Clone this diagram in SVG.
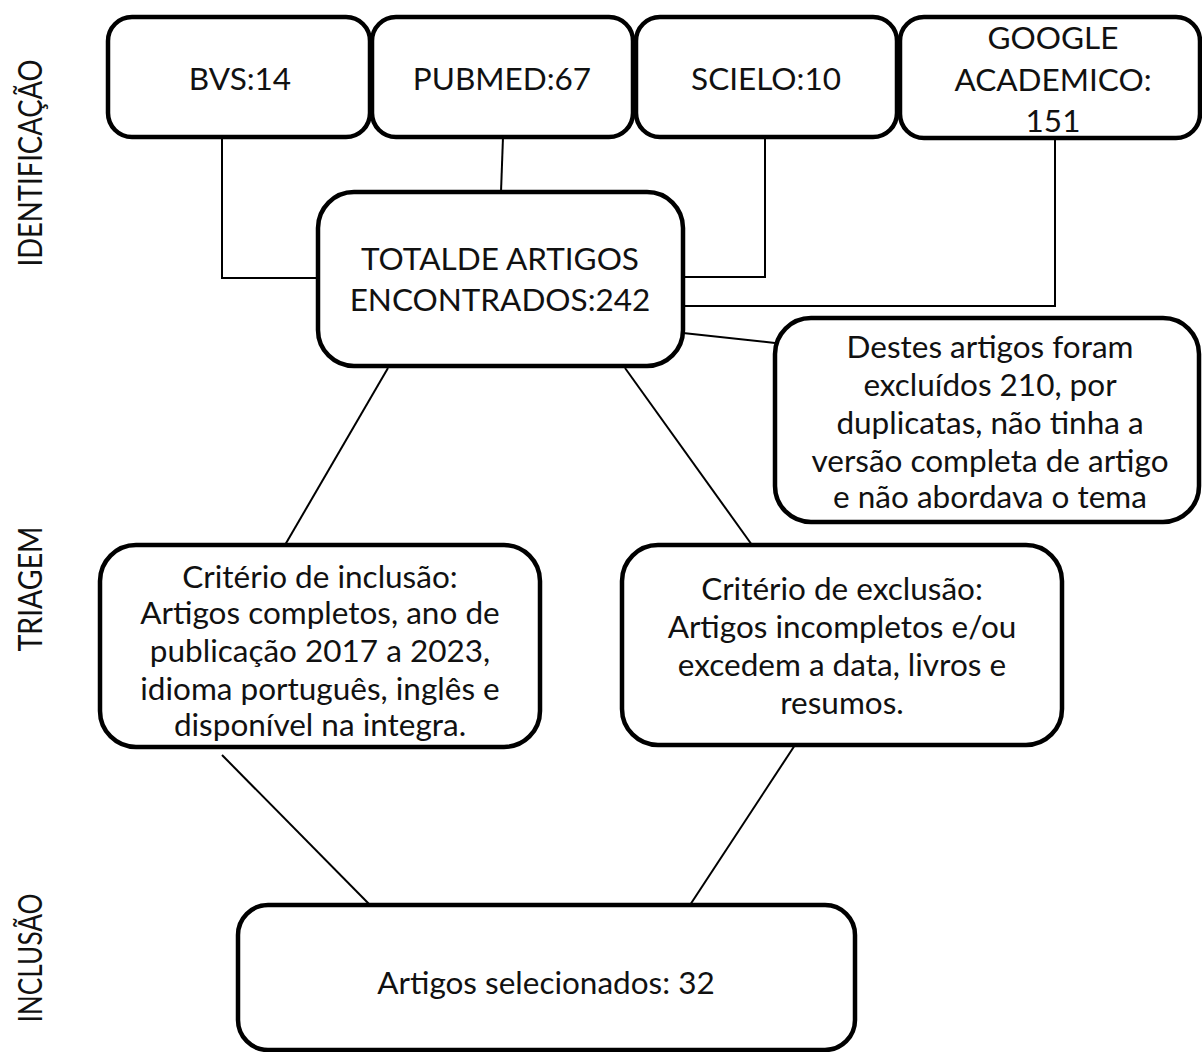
<svg xmlns="http://www.w3.org/2000/svg" width="1202" height="1052" viewBox="0 0 1202 1052">
<style>
.box{fill:#fff;stroke:#000;stroke-width:4.5}
.t{font-family:Lato,"Liberation Sans",sans-serif;font-size:31.5px;fill:#111;text-anchor:middle}
.side{font-family:Lato,"Liberation Sans",sans-serif;font-size:33px;fill:#111;text-anchor:middle}
.c{fill:none;stroke:#000;stroke-width:2}
</style>
<rect width="1202" height="1052" fill="#fff"/>
<g id="connectors">
<polyline class="c" points="222,137 222,278 318,278"/>
<line class="c" x1="503" y1="137" x2="501" y2="192"/>
<polyline class="c" points="765,137 765,277 683,277"/>
<polyline class="c" points="1055,138 1055,306 683,306"/>
<line class="c" x1="683" y1="333" x2="775" y2="343"/>
<line class="c" x1="388" y1="368" x2="285" y2="545"/>
<line class="c" x1="625" y1="368" x2="752" y2="545"/>
<line class="c" x1="222" y1="755" x2="370" y2="905"/>
<line class="c" x1="795" y1="745" x2="690" y2="905"/>
</g>
<g id="side-labels">
<text class="side" transform="translate(42,163) rotate(-90)" textLength="207" lengthAdjust="spacingAndGlyphs">IDENTIFICAÇÃO</text>
<text class="side" transform="translate(42,589) rotate(-90)" textLength="125" lengthAdjust="spacingAndGlyphs">TRIAGEM</text>
<text class="side" transform="translate(42,958) rotate(-90)" textLength="129" lengthAdjust="spacingAndGlyphs">INCLUSÃO</text>
</g>
<g id="bvs"><rect class="box" x="108" y="17" width="262" height="120" rx="24"/><text class="t" x="240" y="90">BVS:14</text></g>
<g id="pubmed"><rect class="box" x="372" y="17" width="261" height="120" rx="24"/><text class="t" x="502" y="90">PUBMED:67</text></g>
<g id="scielo"><rect class="box" x="636" y="17" width="261" height="120" rx="24"/><text class="t" x="766" y="90">SCIELO:10</text></g>
<g id="google"><rect class="box" x="900" y="17" width="300" height="121" rx="24"/><text class="t" x="1053" y="49">GOOGLE</text><text class="t" x="1053" y="91">ACADEMICO:</text><text class="t" x="1053" y="132">151</text></g>
<g id="total"><rect class="box" x="318" y="192" width="365" height="174" rx="36"/><text class="t" x="500" y="270">TOTALDE ARTIGOS</text><text class="t" x="500" y="311">ENCONTRADOS:242</text></g>
<g id="excluidos"><rect class="box" x="775" y="318" width="424" height="204" rx="36"/>
<text class="t" x="990" y="358">Destes artigos foram</text>
<text class="t" x="990" y="396">excluídos 210, por</text>
<text class="t" x="990" y="434">duplicatas, não tinha a</text>
<text class="t" x="990" y="472">versão completa de artigo</text>
<text class="t" x="990" y="508">e não abordava o tema</text></g>
<g id="inclusao"><rect class="box" x="100" y="545" width="440" height="202" rx="36"/>
<text class="t" x="320" y="588">Critério de inclusão:</text>
<text class="t" x="320" y="624">Artigos completos, ano de</text>
<text class="t" x="320" y="662">publicação 2017 a 2023,</text>
<text class="t" x="320" y="700">idioma português, inglês e</text>
<text class="t" x="320" y="736">disponível na integra.</text></g>
<g id="exclusao"><rect class="box" x="622" y="545" width="440" height="200" rx="36"/>
<text class="t" x="842" y="600">Critério de exclusão:</text>
<text class="t" x="842" y="638">Artigos incompletos e/ou</text>
<text class="t" x="842" y="676">excedem a data, livros e</text>
<text class="t" x="842" y="714">resumos.</text></g>
<g id="selecionados"><rect class="box" x="238" y="905" width="617" height="145" rx="30"/><text class="t" x="546" y="994">Artigos selecionados: 32</text></g>
</svg>
